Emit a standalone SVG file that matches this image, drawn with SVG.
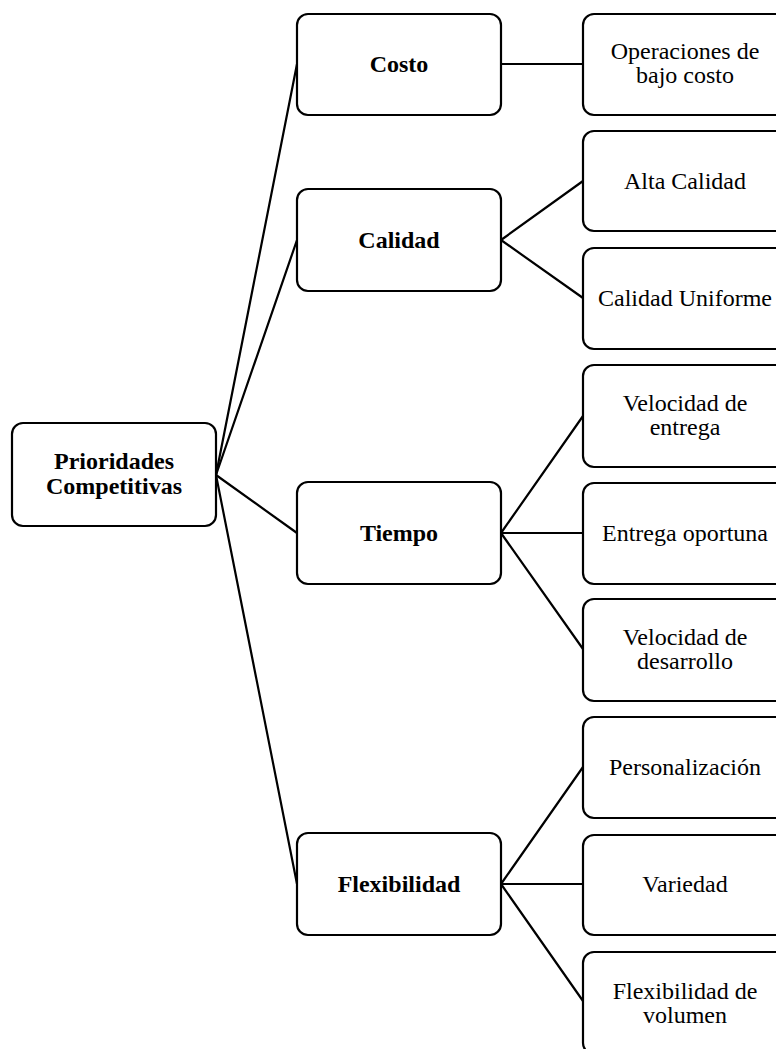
<svg xmlns="http://www.w3.org/2000/svg" width="776" height="1049" viewBox="0 0 776 1049">
<style>
rect{fill:#fff;stroke:#000;stroke-width:2.2}
.c line{stroke:#000;stroke-width:2.2;stroke-linecap:round}
text{font-family:"Liberation Serif","Times New Roman",serif;font-size:24px;fill:#000;text-anchor:middle}
.b{font-weight:bold}
</style>
<rect x="0" y="0" width="776" height="1049" style="fill:#fff;stroke:none"/>
<g class="c" id="connectors">
<line x1="216" y1="475" x2="297" y2="64"/>
<line x1="216" y1="475" x2="297" y2="240"/>
<line x1="216" y1="475" x2="297" y2="533"/>
<line x1="216" y1="475" x2="297" y2="884"/>
<line x1="501" y1="64" x2="583" y2="64"/>
<line x1="501" y1="240" x2="583" y2="181"/>
<line x1="501" y1="240" x2="583" y2="298"/>
<line x1="501" y1="533" x2="583" y2="416"/>
<line x1="501" y1="533" x2="583" y2="533"/>
<line x1="501" y1="533" x2="583" y2="649"/>
<line x1="501" y1="884" x2="583" y2="767"/>
<line x1="501" y1="884" x2="583" y2="884"/>
<line x1="501" y1="884" x2="583" y2="1001"/>
</g>
<g id="root"><rect x="12" y="423" width="204" height="103" rx="11"/><text class="b" x="114" y="469">Prioridades</text><text class="b" x="114" y="494">Competitivas</text></g>
<g id="costo"><rect x="297" y="14" width="204" height="101" rx="11"/><text class="b" x="399" y="72">Costo</text></g>
<g id="calidad"><rect x="297" y="189" width="204" height="102" rx="11"/><text class="b" x="399" y="248">Calidad</text></g>
<g id="tiempo"><rect x="297" y="482" width="204" height="102" rx="11"/><text class="b" x="399" y="541">Tiempo</text></g>
<g id="flexibilidad"><rect x="297" y="833" width="204" height="102" rx="11"/><text class="b" x="399" y="892">Flexibilidad</text></g>
<g id="operaciones"><rect x="583" y="14" width="204" height="101" rx="11"/><text x="685" y="59">Operaciones de</text><text x="685" y="83">bajo costo</text></g>
<g id="alta"><rect x="583" y="131" width="204" height="100" rx="11"/><text x="685" y="189">Alta Calidad</text></g>
<g id="uniforme"><rect x="583" y="248" width="204" height="101" rx="11"/><text x="685" y="306">Calidad Uniforme</text></g>
<g id="velentrega"><rect x="583" y="365" width="204" height="102" rx="11"/><text x="685" y="411">Velocidad de</text><text x="685" y="435">entrega</text></g>
<g id="oportuna"><rect x="583" y="483" width="204" height="101" rx="11"/><text x="685" y="541">Entrega oportuna</text></g>
<g id="veldesarrollo"><rect x="583" y="599" width="204" height="102" rx="11"/><text x="685" y="645">Velocidad de</text><text x="685" y="669">desarrollo</text></g>
<g id="personalizacion"><rect x="583" y="717" width="204" height="101" rx="11"/><text x="685" y="775">Personalización</text></g>
<g id="variedad"><rect x="583" y="835" width="204" height="100" rx="11"/><text x="685" y="892">Variedad</text></g>
<g id="volumen"><rect x="583" y="952" width="204" height="102" rx="11"/><text x="685" y="999">Flexibilidad de</text><text x="685" y="1023">volumen</text></g>
</svg>
